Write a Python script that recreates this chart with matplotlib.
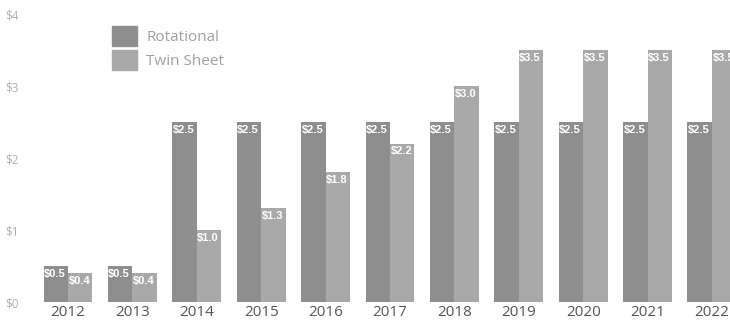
import numpy as np
import matplotlib.pyplot as plt
from matplotlib.patches import Patch

years = ["2012", "2013", "2014", "2015", "2016", "2017", "2018", "2019", "2020", "2021", "2022"]
rotational = [0.5, 0.5, 2.5, 2.5, 2.5, 2.5, 2.5, 2.5, 2.5, 2.5, 2.5]
twin_sheet = [0.4, 0.4, 1.0, 1.3, 1.8, 2.2, 3.0, 3.5, 3.5, 3.5, 3.5]
y_ticks = [0, 1, 2, 3, 4]

c_rot = "#8e8e8e"
c_twin = "#a9a9a9"

fig = plt.figure(figsize=(7.3, 3.26), dpi=100)
ax = fig.add_axes([30 / 730, 24 / 326, 700 / 730, 288 / 326])

x = np.arange(len(years))
w = 0.38
bars_r = ax.bar(x - w / 2, rotational, w, color=c_rot, linewidth=0)
bars_t = ax.bar(x + w / 2, twin_sheet, w, color=c_twin, linewidth=0)

# value labels sit inside the top-left corner of each bar
for bars, vals in [(bars_r, rotational), (bars_t, twin_sheet)]:
    for b, v in zip(bars, vals):
        ax.annotate(f"${v:.1f}", (b.get_x(), v), xytext=(0.3, -2),
                    textcoords="offset points", ha="left", va="top",
                    color="white", fontsize=8, fontweight="bold",
                    family="Liberation Sans")

ax.set_xlim(-0.59, 10.28)
ax.set_ylim(0, 4)
ax.set_xticks(x)
ax.set_xticklabels(years, family="Open Sans", fontsize=11, color="#555555")
ax.set_yticks(y_ticks)
ax.set_yticklabels([f"${t}" for t in y_ticks], family="Open Sans",
                   fontsize=8.5, color="#b0b0b0", ha="left")
ax.tick_params(axis="x", length=0, pad=2)
ax.tick_params(axis="y", length=0, pad=18)
for s in ax.spines.values():
    s.set_visible(False)

handles = [Patch(color=c_rot, label="Rotational"), Patch(color=c_twin, label="Twin Sheet")]
leg = ax.legend(handles=handles, loc="upper left", bbox_to_anchor=(98 / 730, 1 - 12 / 326),
                bbox_transform=fig.transFigure, frameon=False, handlelength=1.65,
                handleheight=1.65, handletextpad=0.6, labelspacing=0.25,
                prop={"family": "Open Sans", "size": 11})
for t in leg.get_texts():
    t.set_color("#a0a0a0")

fig.savefig("out.png", dpi=100)
